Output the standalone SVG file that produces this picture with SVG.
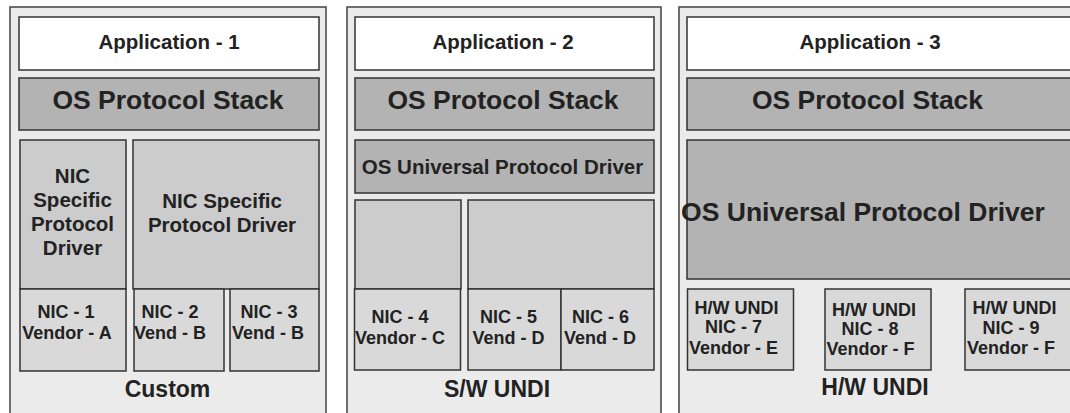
<svg xmlns="http://www.w3.org/2000/svg" width="1070" height="413" viewBox="0 0 1070 413">
<style>
.panel{fill:#ebebeb;stroke:#4d4d4d;stroke-width:1.6}
.app{fill:#ffffff;stroke:#333;stroke-width:1.5}
.stack{fill:#b3b3b3;stroke:#333;stroke-width:1.5}
.drv{fill:#cccccc;stroke:#333;stroke-width:1.5}
.nic{fill:#d9d9d9;stroke:#333;stroke-width:1.5}
text{font-family:"Liberation Sans",Arial,sans-serif;font-weight:bold;fill:#222;text-anchor:middle}
.t21{font-size:20.5px}
.t27{font-size:26.5px}
.t18{font-size:18px}
.t23{font-size:23px}
</style>
<rect width="1070" height="413" fill="#ffffff"/>
<g id="panel-custom">
  <rect class="panel" x="10" y="7" width="316" height="420"/>
  <g id="app1"><rect class="app" x="19" y="17" width="300" height="53"/><text class="t21" x="169" y="49">Application - 1</text></g>
  <g id="stack1"><rect class="stack" x="19" y="78" width="300" height="52"/><text class="t27" x="168" y="109">OS Protocol Stack</text></g>
  <g id="nicdrv1a"><rect class="drv" x="20" y="140" width="106" height="149"/>
    <text class="t21" x="72.5" y="183">NIC</text><text class="t21" x="72.5" y="207">Specific</text><text class="t21" x="72.5" y="231">Protocol</text><text class="t21" x="72.5" y="255">Driver</text></g>
  <g id="nicdrv1b"><rect class="drv" x="133" y="140" width="186" height="149"/>
    <text class="t21" x="222" y="208">NIC Specific</text><text class="t21" x="222" y="232">Protocol Driver</text></g>
  <g id="nic1"><rect class="nic" x="20" y="289" width="106" height="82"/><text class="t18" x="66" y="318">NIC - 1</text><text class="t18" x="67" y="339">Vendor - A</text></g>
  <g id="nic2"><rect class="nic" x="134" y="289" width="90" height="82"/><text class="t18" x="170" y="318">NIC - 2</text><text class="t18" x="170" y="339">Vend - B</text></g>
  <g id="nic3"><rect class="nic" x="230" y="289" width="89" height="82"/><text class="t18" x="269" y="318">NIC - 3</text><text class="t18" x="268" y="339">Vend - B</text></g>
  <text class="t23" x="167.5" y="397">Custom</text>
</g>
<g id="panel-swundi">
  <rect class="panel" x="347" y="7" width="314" height="420"/>
  <g id="app2"><rect class="app" x="355" y="17" width="299" height="53"/><text class="t21" x="503" y="49">Application - 2</text></g>
  <g id="stack2"><rect class="stack" x="355" y="78" width="299" height="52"/><text class="t27" x="503" y="109">OS Protocol Stack</text></g>
  <g id="updrv2"><rect class="stack" x="355" y="140" width="299" height="53"/><text class="t21" x="502.5" y="174">OS Universal Protocol Driver</text></g>
  <g id="blank2a"><rect class="drv" x="355" y="200" width="106" height="89"/></g>
  <g id="blank2b"><rect class="drv" x="468" y="200" width="186" height="89"/></g>
  <g id="nic4"><rect class="nic" x="354.5" y="289" width="106" height="81"/><text class="t18" x="400" y="323">NIC - 4</text><text class="t18" x="400" y="344">Vendor - C</text></g>
  <g id="nic5"><rect class="nic" x="468" y="289" width="93" height="81"/><text class="t18" x="508.5" y="323">NIC - 5</text><text class="t18" x="508.5" y="344">Vend - D</text></g>
  <g id="nic6"><rect class="nic" x="561" y="289" width="93" height="81"/><text class="t18" x="600.5" y="323">NIC - 6</text><text class="t18" x="600" y="344">Vend - D</text></g>
  <text class="t23" x="497" y="397">S/W UNDI</text>
</g>
<g id="panel-hwundi">
  <rect class="panel" x="679" y="7" width="400" height="420"/>
  <g id="app3"><rect class="app" x="687" y="17" width="390" height="53"/><text class="t21" x="870" y="49">Application - 3</text></g>
  <g id="stack3"><rect class="stack" x="687" y="78" width="390" height="52"/><text class="t27" x="867.5" y="109">OS Protocol Stack</text></g>
  <g id="updrv3"><rect class="stack" x="687" y="140" width="390" height="139"/><text class="t27" x="863" y="221">OS Universal Protocol Driver</text></g>
  <g id="nic7"><rect class="nic" x="687.5" y="289" width="106" height="81"/><text class="t18" x="736.5" y="314">H/W UNDI</text><text class="t18" x="733.5" y="333">NIC - 7</text><text class="t18" x="733.5" y="354">Vendor - E</text></g>
  <g id="nic8"><rect class="nic" x="825" y="289" width="106" height="81"/><text class="t18" x="874" y="316">H/W UNDI</text><text class="t18" x="870" y="334.5">NIC - 8</text><text class="t18" x="870.5" y="355">Vendor - F</text></g>
  <g id="nic9"><rect class="nic" x="965" y="289" width="110" height="81"/><text class="t18" x="1014.5" y="313.5">H/W UNDI</text><text class="t18" x="1011" y="333.5">NIC - 9</text><text class="t18" x="1011" y="354">Vendor - F</text></g>
  <text class="t23" x="875" y="395">H/W UNDI</text>
</g>
<g id="connectors"/>
</svg>
